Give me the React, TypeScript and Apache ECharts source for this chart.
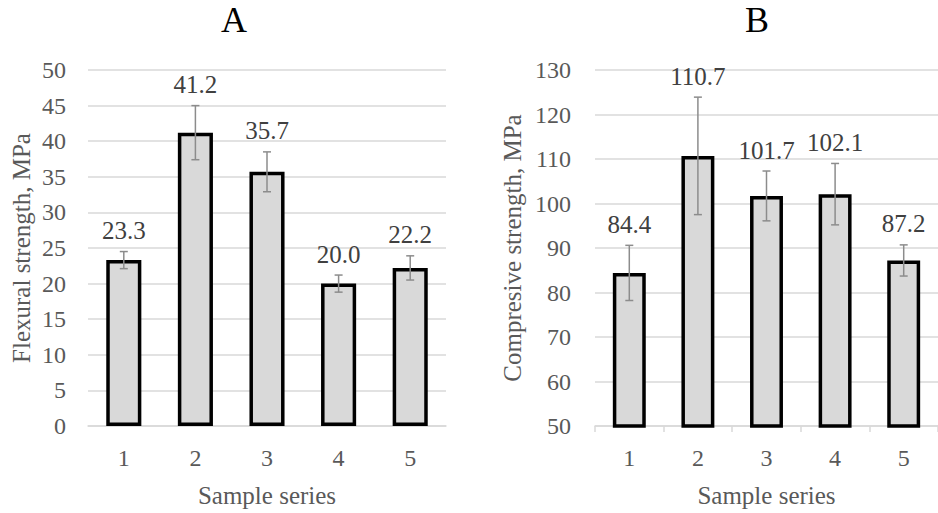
import React, { useEffect, useRef } from "react";
import * as echarts from "echarts";

const categories = ["1", "2", "3", "4", "5"];
const flexural = [23.3, 41.2, 35.7, 20.0, 22.2];
const flexuralErr = [1.2, 3.8, 2.8, 1.2, 1.7];
const compressive = [84.4, 110.7, 101.7, 102.1, 87.2];
const compressiveErr = [6.2, 13.2, 5.6, 6.9, 3.5];
const flexTicks = { min: 0, max: 50, interval: 5 };
const compTicks = { min: 50, max: 130, interval: 10 };

const FONT = "'Liberation Serif', 'Times New Roman', serif";
const GRAY_TEXT = "#595959";
const GRID_COLOR = "#d9d9d9";

function errData(vals: number[], errs: number[]) {
  return vals.map((v, i) => [i, v - errs[i], v + errs[i], v]);
}

function renderErr(params: any, api: any) {
  const x = api.value(0);
  const lo = api.value(1);
  const hi = api.value(2);
  const v = api.value(3);
  const top = api.coord([x, hi]);
  const bot = api.coord([x, lo]);
  const cap = 4;
  const st = { stroke: "#8c8c8c", lineWidth: 1.5 };
  return {
    type: "group",
    children: [
      { type: "line", shape: { x1: top[0], y1: top[1], x2: bot[0], y2: bot[1] }, style: st },
      { type: "line", shape: { x1: top[0] - cap, y1: top[1], x2: top[0] + cap, y2: top[1] }, style: st },
      { type: "line", shape: { x1: bot[0] - cap, y1: bot[1], x2: bot[0] + cap, y2: bot[1] }, style: st },
      {
        type: "text",
        x: top[0],
        y: top[1] - 21,
        style: {
          text: v.toFixed(1),
          fill: "#404040",
          font: `25px ${FONT}`,
          align: "center",
          verticalAlign: "middle",
        },
      },
    ],
  };
}

export default function App() {
  const ref = useRef<HTMLDivElement>(null);
  useEffect(() => {
    document.body.style.margin = "0";
    const chart = echarts.init(ref.current!, null, { renderer: "svg" });
    const axisLabel = { color: GRAY_TEXT, fontFamily: FONT, fontSize: 24 };
    const nameStyle = { color: GRAY_TEXT, fontFamily: FONT, fontSize: 25 };
    chart.setOption({
      animation: false,
      backgroundColor: "#ffffff",
      graphic: [
        { type: "text", x: 234, y: 20, style: { text: "A", font: `36px ${FONT}`, fill: "#000", align: "center", verticalAlign: "middle" } },
        { type: "text", x: 757, y: 20, style: { text: "B", font: `36px ${FONT}`, fill: "#000", align: "center", verticalAlign: "middle" } },
      ],
      grid: [
        { left: 88, right: 492, top: 70, bottom: 85 },
        { left: 595, right: 0, top: 70, bottom: 83 },
      ],
      xAxis: [
        {
          gridIndex: 0,
          type: "category",
          data: categories,
          name: "Sample series",
          nameLocation: "middle",
          nameGap: 57,
          nameTextStyle: nameStyle,
          axisLine: { lineStyle: { color: GRID_COLOR, width: 1.5 } },
          axisTick: { show: false },
          axisLabel: { ...axisLabel, margin: 20 },
        },
        {
          gridIndex: 1,
          type: "category",
          data: categories,
          name: "Sample series",
          nameLocation: "middle",
          nameGap: 57,
          nameTextStyle: nameStyle,
          axisLine: { lineStyle: { color: GRID_COLOR, width: 1.5 } },
          axisTick: { show: true, length: 6, lineStyle: { color: GRID_COLOR, width: 1.5 } },
          axisLabel: { ...axisLabel, margin: 20 },
        },
      ],
      yAxis: [
        {
          gridIndex: 0,
          type: "value",
          ...flexTicks,
          name: "Flexural strength, MPa",
          nameLocation: "middle",
          nameGap: 54,
          nameTextStyle: nameStyle,
          axisLine: { show: false },
          axisTick: { show: false },
          axisLabel: { ...axisLabel, margin: 22 },
          splitLine: { lineStyle: { color: GRID_COLOR, width: 1.5 } },
        },
        {
          gridIndex: 1,
          type: "value",
          ...compTicks,
          name: "Compresive strength, MPa",
          nameLocation: "middle",
          nameGap: 70,
          nameTextStyle: nameStyle,
          axisLine: { show: false },
          axisTick: { show: false },
          axisLabel: { ...axisLabel, margin: 24 },
          splitLine: { lineStyle: { color: GRID_COLOR, width: 1.5 } },
        },
      ],
      series: [
        {
          type: "bar",
          xAxisIndex: 0,
          yAxisIndex: 0,
          data: flexural,
          barWidth: "49%",
          itemStyle: { color: "#d9d9d9", borderColor: "#000", borderWidth: 3.5 },
        },
        {
          type: "custom",
          xAxisIndex: 0,
          yAxisIndex: 0,
          data: errData(flexural, flexuralErr),
          renderItem: renderErr,
          z: 5,
        },
        {
          type: "bar",
          xAxisIndex: 1,
          yAxisIndex: 1,
          data: compressive,
          barWidth: "48%",
          itemStyle: { color: "#d9d9d9", borderColor: "#000", borderWidth: 3.5 },
        },
        {
          type: "custom",
          xAxisIndex: 1,
          yAxisIndex: 1,
          data: errData(compressive, compressiveErr),
          renderItem: renderErr,
          z: 5,
        },
      ],
    });
    return () => chart.dispose();
  }, []);
  return <div ref={ref} style={{ width: 938, height: 513 }} />;
}
